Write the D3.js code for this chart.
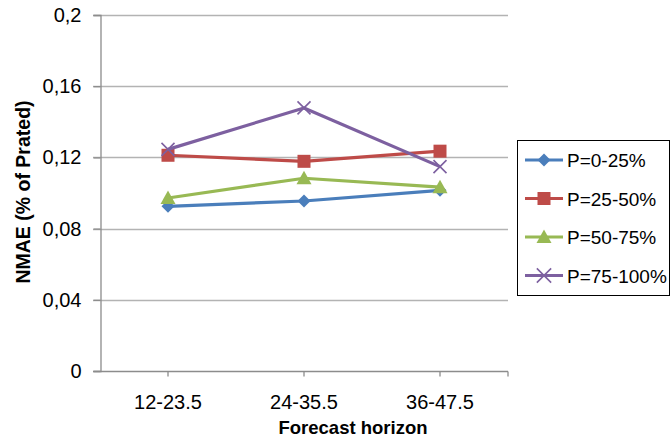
<!DOCTYPE html>
<html><head><meta charset="utf-8">
<script src="https://cdnjs.cloudflare.com/ajax/libs/d3/7.8.5/d3.min.js"></script>
<style>body{margin:0;background:#fff}svg{display:block}</style>
</head><body>
<script>
const categories = ["12-23.5", "24-35.5", "36-47.5"];
const seriesNames = ["P=0-25%", "P=25-50%", "P=50-75%", "P=75-100%"];
const s0 = [0.0925, 0.0955, 0.1015];
const s1 = [0.1212, 0.1178, 0.1235];
const s2 = [0.0972, 0.1083, 0.1033];
const s3 = [0.1245, 0.1478, 0.1148];
const yTicks = [0, 0.04, 0.08, 0.12, 0.16, 0.2];
const yTickLabels = ["0", "0,04", "0,08", "0,12", "0,16", "0,2"];
const colors = ["#4A7EBB", "#BE4B48", "#98B954", "#7D60A0"];
const markers = ["diamond", "square", "triangle", "x"];
const seriesValues = [s0, s1, s2, s3];

const W = 671, H = 441;
const svg = d3.select("body").append("svg").attr("width", W).attr("height", H);
const font = "'Liberation Sans', Arial, sans-serif";
const x0 = 100, x1 = 508, yTop = 15, yBot = 371;

const x = d3.scaleBand().domain(categories).range([x0, x1]).paddingInner(0).paddingOuter(0);
const y = d3.scaleLinear().domain([0, 0.2]).range([yBot, yTop]);

// gridlines
svg.append("g").selectAll("line").data(yTicks.slice(1)).join("line")
  .attr("x1", x0 - 7).attr("x2", x1)
  .attr("y1", d => Math.round(y(d)) + 0.5).attr("y2", d => Math.round(y(d)) + 0.5)
  .attr("stroke", "#b3b3b3").attr("stroke-width", 1.3);

// y axis
const yAxis = d3.axisLeft(y).tickValues(yTicks).tickFormat((d, i) => yTickLabels[i]).tickSize(7).tickPadding(12);
const gy = svg.append("g").attr("transform", `translate(${x0 + 0.5},0)`).call(yAxis);
gy.select(".domain").attr("stroke", "#8c8c8c").attr("stroke-width", 1.3);
gy.selectAll(".tick line").attr("stroke", "#8c8c8c").attr("stroke-width", 1.3);
gy.selectAll(".tick text").attr("font-family", font).attr("font-size", 20).attr("fill", "#000");

// x axis
const gx = svg.append("g").attr("transform", `translate(0,${yBot + 0.5})`);
gx.append("line").attr("x1", x0 - 7).attr("x2", x1).attr("y1", 0).attr("y2", 0).attr("stroke", "#8c8c8c").attr("stroke-width", 1.3);
const tickXs = categories.map(c => x(c) + x.bandwidth() / 2).concat([x1]);
gx.selectAll("line.tk").data(tickXs).join("line").attr("class", "tk")
  .attr("x1", d => d).attr("x2", d => d).attr("y1", 0).attr("y2", 5)
  .attr("stroke", "#8c8c8c").attr("stroke-width", 1.3);
gx.selectAll("text").data(categories).join("text")
  .attr("x", d => x(d) + x.bandwidth() / 2).attr("y", 37)
  .attr("text-anchor", "middle").attr("font-family", font).attr("font-size", 20).text(d => d);

// axis titles
svg.append("text").attr("transform", "translate(30,192) rotate(-90)").attr("text-anchor", "middle")
  .attr("font-family", font).attr("font-weight", "bold").attr("font-size", 19.5).text("NMAE (% of Prated)");
svg.append("text").attr("x", 353).attr("y", 434).attr("text-anchor", "middle")
  .attr("font-family", font).attr("font-weight", "bold").attr("font-size", 18.5).text("Forecast horizon");

function drawMarker(g, type, cx, cy, color, scale) {
  const s = scale || 1;
  if (type === "diamond") {
    const r = 6.5 * s;
    g.append("path").attr("d", `M${cx},${cy - r}L${cx + r},${cy}L${cx},${cy + r}L${cx - r},${cy}Z`).attr("fill", color);
  } else if (type === "square") {
    const r = 6.5 * s;
    g.append("rect").attr("x", cx - r).attr("y", cy - r).attr("width", 2 * r).attr("height", 2 * r).attr("fill", color);
  } else if (type === "triangle") {
    const r = 7.5 * s;
    g.append("path").attr("d", `M${cx},${cy - r}L${cx + r},${cy + r * 0.8}L${cx - r},${cy + r * 0.8}Z`).attr("fill", color);
  } else {
    const r = 6.5 * s;
    g.append("path").attr("d", `M${cx - r},${cy - r}L${cx + r},${cy + r}M${cx - r},${cy + r}L${cx + r},${cy - r}`)
      .attr("stroke", color).attr("stroke-width", 1.6).attr("fill", "none");
  }
}

const line = d3.line().x((d, i) => x(categories[i]) + x.bandwidth() / 2).y(d => y(d));
seriesValues.forEach((vals, k) => {
  const g = svg.append("g");
  g.append("path").attr("d", line(vals)).attr("fill", "none").attr("stroke", colors[k])
    .attr("stroke-width", 3.2).attr("stroke-linejoin", "round");
  vals.forEach((v, i) => drawMarker(g, markers[k], x(categories[i]) + x.bandwidth() / 2, y(v), colors[k]));
});

// legend
const lg = svg.append("g");
lg.append("rect").attr("x", 517.5).attr("y", 140.5).attr("width", 152).attr("height", 155)
  .attr("fill", "#fff").attr("stroke", "#000").attr("stroke-width", 1);
seriesNames.forEach((n, k) => {
  const cy = 160 + k * 38.5;
  lg.append("line").attr("x1", 525).attr("x2", 563).attr("y1", cy).attr("y2", cy)
    .attr("stroke", colors[k]).attr("stroke-width", 3.2);
  drawMarker(lg, markers[k], 544, cy, colors[k], k === 3 ? 1.1 : 1);
  lg.append("text").attr("x", 567).attr("y", cy + 7).attr("font-family", font).attr("font-size", 19).text(n);
});
</script>
</body></html>
